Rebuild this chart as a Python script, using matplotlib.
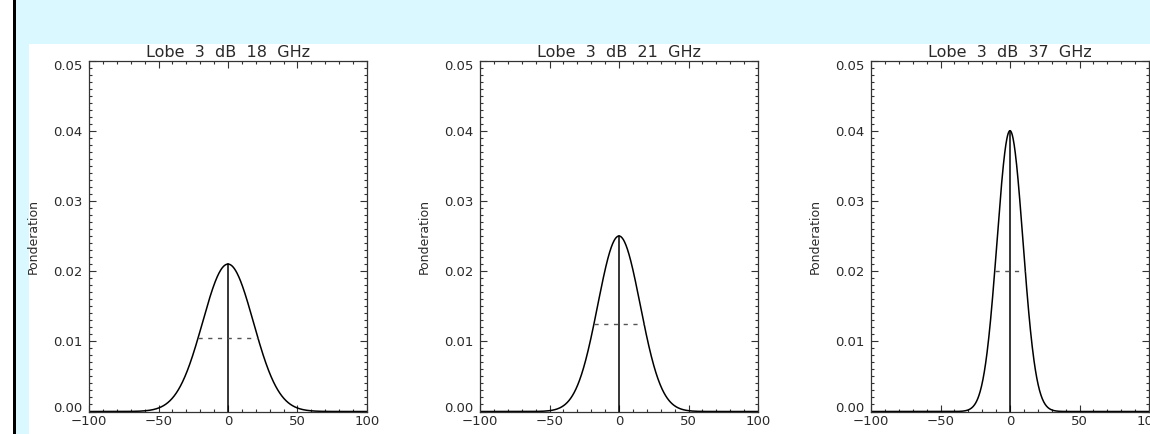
import numpy as np
import matplotlib
matplotlib.use("Agg")
import matplotlib.pyplot as plt
from matplotlib.patches import Rectangle
from matplotlib.ticker import MultipleLocator, FixedLocator

# Beam weighting profiles (3 dB lobe) for each frequency
frequencies = ["18", "21", "37"]
peak_weight = [0.021, 0.025, 0.040]
half_width = [21.5, 18.0, 11.0]      # half width at half maximum (same units as x axis)

x_ticks = [-100, -50, 0, 50, 100]
y_ticks = [0.00, 0.01, 0.02, 0.03, 0.04, 0.05]

W, H = 1150, 434
fig = plt.figure(figsize=(W / 100, H / 100), dpi=100)
fig.patch.set_facecolor("#d9f8ff")

# white margin on the far left, dark rule, then white plotting area
fig.add_artist(Rectangle((0, 0), 13 / W, 1, transform=fig.transFigure,
                         facecolor="white", edgecolor="none", zorder=0))
fig.add_artist(Rectangle((13 / W, 0), 3 / W, 1, transform=fig.transFigure,
                         facecolor="black", edgecolor="none", zorder=0))
fig.add_artist(Rectangle((29 / W, 0), 1 - 29 / W, 1 - 44 / H, transform=fig.transFigure,
                         facecolor="white", edgecolor="none", zorder=0))

text_color = "#2a2a2a"
lefts = [89, 480, 871]
ax_w = 278
top, bottom = 60.5, 411.5

for left, freq, amp, hw in zip(lefts, frequencies, peak_weight, half_width):
    ax = fig.add_axes([left / W, 1 - bottom / H, ax_w / W, (bottom - top) / H])
    ax.set_facecolor("none")
    ax.set_xlim(-100, 100)
    ax.set_ylim(0, 0.05)

    sigma = hw / np.sqrt(2 * np.log(2))
    x = np.linspace(-100, 100, 801)
    y = amp * np.exp(-x ** 2 / (2 * sigma ** 2))
    ax.plot(x, y, color="black", lw=1.1)
    ax.plot([0, 0], [0, amp], color="black", lw=1.1)
    ax.plot([-hw, hw], [amp / 2, amp / 2], color="#555555", lw=1.0,
            linestyle=(0, (3, 4)))

    ax.xaxis.set_major_locator(FixedLocator(x_ticks))
    ax.xaxis.set_minor_locator(MultipleLocator(10))
    ax.yaxis.set_major_locator(FixedLocator(y_ticks))
    ax.yaxis.set_minor_locator(MultipleLocator(0.001))
    ax.set_xticklabels(["\u2212100", "\u221250", "0", "50", "100"])
    ax.set_yticklabels([f"{v:.2f}" for v in y_ticks])

    ax.tick_params(which="both", direction="in", top=True, right=True,
                   colors="#333333", width=0.8, labelcolor=text_color,
                   labelsize=9.5)
    ax.tick_params(which="major", length=5)
    ax.tick_params(which="minor", length=2.5)
    ax.tick_params(axis="x", pad=2.5)
    ax.tick_params(axis="y", pad=5)
    for sp in ax.spines.values():
        sp.set_linewidth(0.9)
        sp.set_color("#333333")

    ylabs = ax.get_yticklabels()
    ylabs[0].set_va("baseline")
    ylabs[-1].set_va("top")

    ax.set_title(f"Lobe  3  dB  {freq}  GHz", fontsize=11.5, color=text_color, pad=1)
    ax.set_ylabel("Ponderation", fontsize=9, color=text_color, labelpad=9)

fig.savefig("out.png", dpi=100, facecolor=fig.get_facecolor())
